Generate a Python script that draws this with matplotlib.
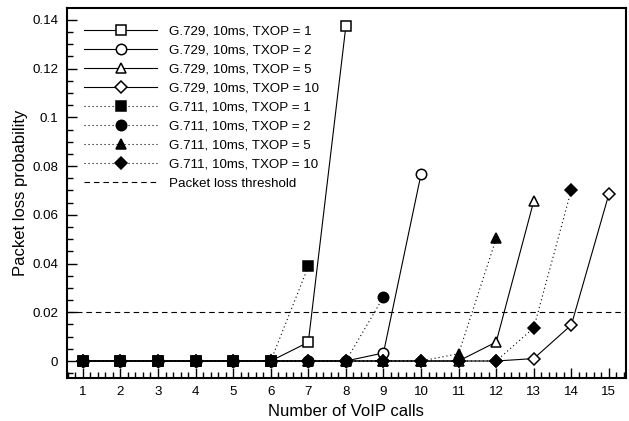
import matplotlib
matplotlib.use('Agg')
import matplotlib.pyplot as plt
from matplotlib.ticker import MultipleLocator

plt.rcParams['font.family'] = ['Liberation Sans', 'DejaVu Sans']

# number of VoIP calls for each curve
calls_729_1 = [1, 2, 3, 4, 5, 6, 7, 8]
calls_729_2 = [1, 2, 3, 4, 5, 6, 7, 8, 9, 10]
calls_729_5 = [1, 2, 3, 4, 5, 6, 7, 8, 9, 10, 11, 12, 13]
calls_729_10 = [1, 2, 3, 4, 5, 6, 7, 8, 9, 10, 11, 12, 13, 14, 15]
calls_711_1 = [1, 2, 3, 4, 5, 6, 7]
calls_711_2 = [1, 2, 3, 4, 5, 6, 7, 8, 9]
calls_711_5 = [1, 2, 3, 4, 5, 6, 7, 8, 9, 10, 11, 12]
calls_711_10 = [1, 2, 3, 4, 5, 6, 7, 8, 9, 10, 11, 12, 13, 14]

# packet loss probability
loss_729_1 = [0, 0, 0, 0, 0, 0, 0.0077, 0.1375]
loss_729_2 = [0, 0, 0, 0, 0, 0, 0, 0, 0.0033, 0.0767]
loss_729_5 = [0, 0, 0, 0, 0, 0, 0, 0, 0, 0, 0, 0.0078, 0.0657]
loss_729_10 = [0, 0, 0, 0, 0, 0, 0, 0, 0, 0, 0, 0, 0.001, 0.0148, 0.0686]
loss_711_1 = [0, 0, 0, 0, 0, 0, 0.0388]
loss_711_2 = [0, 0, 0, 0, 0, 0, 0, 0, 0.0263]
loss_711_5 = [0, 0, 0, 0, 0, 0, 0, 0, 0, 0, 0.003, 0.0503]
loss_711_10 = [0, 0, 0, 0, 0, 0, 0, 0, 0, 0, 0, 0, 0.0136, 0.0703]

threshold = 0.02

labels = ['G.729, 10ms, TXOP = 1', 'G.729, 10ms, TXOP = 2',
          'G.729, 10ms, TXOP = 5', 'G.729, 10ms, TXOP = 10',
          'G.711, 10ms, TXOP = 1', 'G.711, 10ms, TXOP = 2',
          'G.711, 10ms, TXOP = 5', 'G.711, 10ms, TXOP = 10',
          'Packet loss threshold']

fig = plt.figure(figsize=(6.29, 4.21), dpi=100)
ax = fig.add_axes([0.106, 0.102, 0.889, 0.879])

ms = 7.5
solid = dict(color='black', lw=0.8, ls='-', mfc='white', mec='black', mew=1.1, ms=ms)
dotted = dict(color='black', lw=0.8, ls=(0, (1, 2.6)), mfc='black', mec='black', mew=1.1, ms=ms)

h = {}
h[0], = ax.plot(calls_729_1, loss_729_1, marker='s', zorder=3, **solid)
h[1], = ax.plot(calls_729_2, loss_729_2, marker='o', zorder=3, **solid)
h[2], = ax.plot(calls_729_5, loss_729_5, marker='^', zorder=3, **solid)
h[3], = ax.plot(calls_729_10, loss_729_10, marker='D', zorder=3, **dict(solid, ms=6.5))
# G.711 curves on top, TXOP = 1 uppermost
h[7], = ax.plot(calls_711_10, loss_711_10, marker='D', zorder=4, **dict(dotted, ms=6.5))
h[6], = ax.plot(calls_711_5, loss_711_5, marker='^', zorder=5, **dotted)
h[5], = ax.plot(calls_711_2, loss_711_2, marker='o', zorder=6, **dotted)
h[4], = ax.plot(calls_711_1, loss_711_1, marker='s', zorder=7, **dotted)
h[8] = ax.axhline(threshold, color='black', lw=0.8, ls=(0, (5, 3.5)), zorder=2)

ax.set_xlim(0.57, 15.45)
ax.set_ylim(-0.007, 0.1449)
ax.set_xticks(range(1, 16))
ax.set_yticks([0, 0.02, 0.04, 0.06, 0.08, 0.1, 0.12, 0.14])
ax.set_yticklabels(['0', '0.02', '0.04', '0.06', '0.08', '0.1', '0.12', '0.14'])
ax.xaxis.set_minor_locator(MultipleLocator(0.2))
ax.yaxis.set_minor_locator(MultipleLocator(0.005))
ax.tick_params(which='both', direction='in', top=False, right=False,
               labelsize=9.6, width=1.0)
ax.tick_params(which='major', length=7, pad=6)
ax.tick_params(which='minor', length=4)
for s in ax.spines.values():
    s.set_linewidth(1.5)

ax.set_xlabel('Number of VoIP calls', fontsize=12, labelpad=4)
ax.set_ylabel('Packet loss probability', fontsize=12, labelpad=3)

ax.legend([h[i] for i in range(9)], labels, loc='upper left',
          bbox_to_anchor=(0.0, 1.0), frameon=False, fontsize=9.6,
          handlelength=5.5, handletextpad=0.9, labelspacing=0.5,
          numpoints=1, borderaxespad=0.8, borderpad=0.5)

fig.savefig('out.png', dpi=100, facecolor='white')
